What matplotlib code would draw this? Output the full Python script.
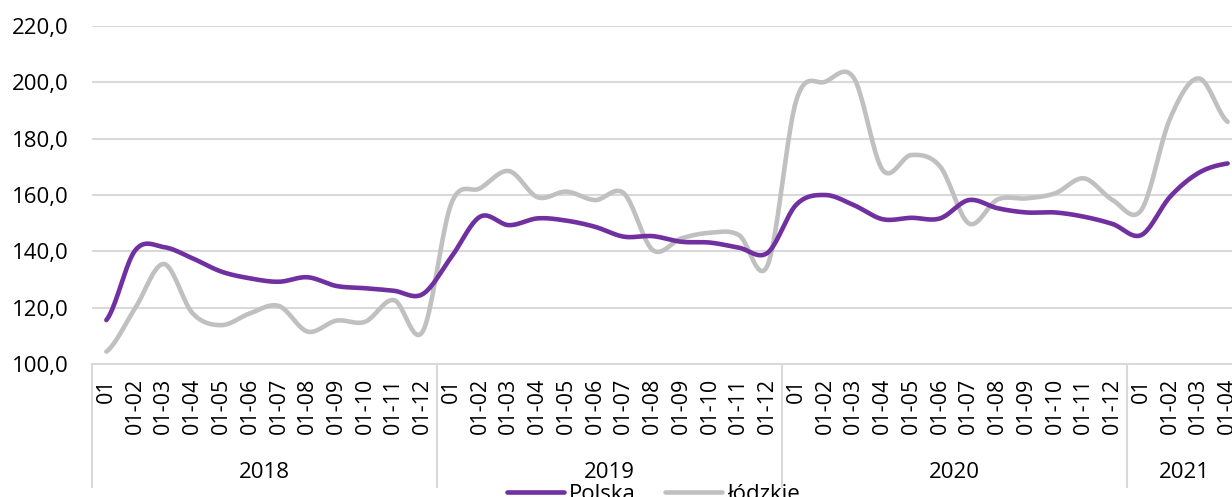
import matplotlib
matplotlib.use('Agg')
from matplotlib import pyplot as plt
from matplotlib.ticker import FuncFormatter
import numpy as np

plt.rcParams['font.family'] = ['Open Sans', 'DejaVu Sans']

years = ['2018', '2019', '2020', '2021']
months_per_year = [12, 12, 12, 4]
month_labels = ['01'] + ['01-%02d' % m for m in range(2, 13)]

polska = [115.6, 140.3, 141.5, 137.5, 132.8, 130.4, 129.2, 130.8, 127.7, 126.9, 126.0, 124.8,
          138.0, 152.3, 149.3, 151.7, 150.9, 148.7, 145.2, 145.4, 143.4, 143.1, 141.3, 139.5,
          156.6, 160.0, 156.4, 151.4, 151.9, 151.7, 158.2, 155.3, 153.8, 153.8, 152.3, 149.7,
          145.8, 159.4, 167.9, 171.2]
lodzkie = [104.4, 119.8, 135.5, 118.0, 113.8, 118.0, 120.6, 111.5, 115.4, 115.0, 122.7, 111.5,
           157.0, 162.4, 168.5, 159.2, 161.2, 158.2, 160.6, 140.5, 144.6, 146.6, 145.8, 135.1,
           193.7, 200.2, 201.5, 168.9, 174.2, 170.1, 149.9, 158.4, 158.8, 160.6, 165.9, 158.2,
           154.7, 187.2, 201.4, 186.0]

tick_labels = []
for n in months_per_year:
    tick_labels += month_labels[:n]

color_polska = '#7030A0'
color_lodzkie = '#C0C0C0'
grid_color = '#D9D9D9'


def smooth(y, steps=20):
    # Catmull-Rom curve through the points, like Excel's smoothed line
    y = np.asarray(y, dtype=float)
    p = np.concatenate([[y[0]], y, [y[-1]]])
    xs, ys = [], []
    t = np.linspace(0, 1, steps, endpoint=False)
    for i in range(len(y) - 1):
        p0, p1, p2, p3 = p[i], p[i + 1], p[i + 2], p[i + 3]
        seg = 0.5 * ((2 * p1) + (-p0 + p2) * t + (2 * p0 - 5 * p1 + 4 * p2 - p3) * t ** 2
                     + (-p0 + 3 * p1 - 3 * p2 + p3) * t ** 3)
        xs.append(i + t)
        ys.append(seg)
    xs.append([len(y) - 1])
    ys.append([y[-1]])
    return np.concatenate(xs), np.concatenate(ys)


fig = plt.figure(figsize=(12.32, 4.97), dpi=100)
ax = fig.add_axes([92 / 1232, 133 / 497, 1150 / 1232, 338 / 497])

x1, y1 = smooth(polska)
x2, y2 = smooth(lodzkie)
ax.plot(x1, y1, color=color_polska, lw=3.3, solid_capstyle='round', label='Polska', zorder=3,
        clip_on=False)
ax.plot(x2, y2, color=color_lodzkie, lw=3.3, solid_capstyle='round', label='łódzkie', zorder=2,
        clip_on=False)

n = len(tick_labels)
ax.set_xlim(-0.5, n - 0.5)
ax.set_ylim(100, 220)
ax.set_yticks(np.arange(100, 221, 20))
ax.yaxis.set_major_formatter(FuncFormatter(lambda v, p: ('%.1f' % v).replace('.', ',')))
ax.set_xticks(np.arange(n))
ax.set_xticklabels(tick_labels, rotation=90, va='top', ha='center')
ax.tick_params(axis='x', length=0, pad=10, labelsize=15.5, colors='black')
ax.tick_params(axis='y', length=0, pad=17, labelsize=16, colors='black')
ax.grid(axis='y', color=grid_color, lw=1.5)
ax.set_axisbelow(True)
for s in ['top', 'right', 'left']:
    ax.spines[s].set_visible(False)
ax.spines['bottom'].set_color(grid_color)
ax.spines['bottom'].set_linewidth(1.5)

# year group separators and labels
trans = ax.get_xaxis_transform()
start = 0
for year, cnt in zip(years, months_per_year):
    ax.plot([start - 0.5, start - 0.5], [0, -0.364], transform=trans, color=grid_color,
            lw=1.5, clip_on=False)
    ax.text(start + (cnt - 1) / 2, -0.32, year, transform=trans, ha='center', va='center',
            fontsize=16)
    start += cnt
ax.plot([start - 0.5, start - 0.5], [0, -0.364], transform=trans, color=grid_color,
        lw=1.5, clip_on=False)

fig.legend(loc='center', bbox_to_anchor=(653 / 1232, 1 - 494 / 497), ncol=2, frameon=False,
           fontsize=16, handlelength=2.6, handletextpad=0.2, columnspacing=1.3)

fig.savefig('out.png', dpi=100)
